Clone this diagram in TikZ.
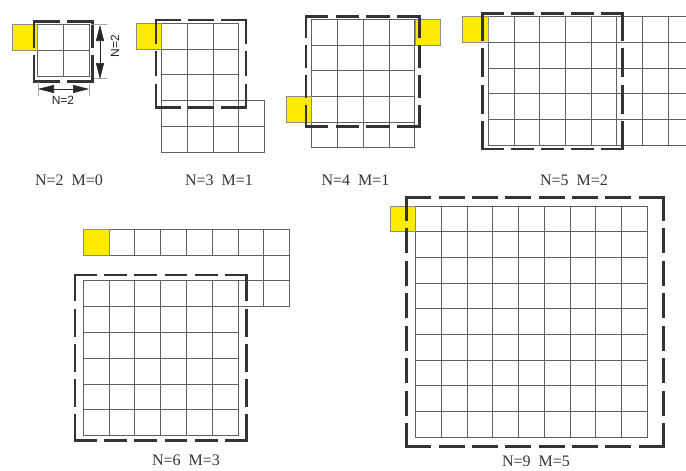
\documentclass[tikz,border=0pt]{standalone}
\usepackage{fontspec}
\setmainfont{Liberation Serif}
\newfontfamily\dimfont{Liberation Sans}
\usetikzlibrary{arrows.meta}
\tikzset{
  gridln/.style={draw=black!62, line width=0.9pt},
  yel/.style={fill=yellow!92!orange, draw=black!45, line width=0.6pt},
  dboxln/.style={draw=black!80, line width=2.6pt, line cap=rect},
  extln/.style={draw=black!35, line width=0.5pt},
  dimln/.style={draw=black!85, line width=0.6pt, {Triangle[length=16pt,width=8pt]}-{Triangle[length=16pt,width=8pt]}},
  captext/.style={font=\fontsize{16}{16}\selectfont, text=black!80, inner sep=0pt},
  dimtxt/.style={font=\dimfont\fontsize{12}{12}\selectfont, text=black!85, inner sep=0pt}
}
\newcommand{\dside}[4]{%
  \pgfmathsetmacro{\dsL}{veclen(#3-#1,#4-#2)}%
  \pgfmathsetmacro{\dsN}{max(1,round((\dsL+10)/33))}%
  \pgfmathsetmacro{\dsD}{(\dsL-(\dsN-1)*10)/\dsN}%
  \draw[dboxln, dash pattern=on \dsD pt off 10pt] (#1,#2) -- (#3,#4);}
\newcommand{\dbox}[4]{\dside{#1}{#2}{#3}{#2}\dside{#3}{#2}{#3}{#4}\dside{#3}{#4}{#1}{#4}\dside{#1}{#4}{#1}{#2}}
\begin{document}
\begin{tikzpicture}[x=1pt,y=-1pt]
\path[use as bounding box] (0,0) rectangle (686,471);
\clip (0,0) rectangle (686,471);
\fill[white] (0,0) rectangle (686,471);

% ---------- Panel N=2 ----------
\foreach \i in {0,1} \foreach \j in {0,1}
  \draw[gridln] ({37+26*\i},{24+26*\j}) rectangle ++(26,26);
\draw[yel] (12,24) rectangle (37,50);
\dbox{34}{21.7}{92.7}{81.7}
\draw[extln] (91,24) -- (107,24);
\draw[extln] (94,78) -- (107,78);
\draw[extln] (38,82) -- (38,96);
\draw[extln] (89,84) -- (89,96);
\coordinate (vA) at (100,25);
\coordinate (vB) at (100,79);
\draw[dimln] (vA) -- (vB);
\coordinate (hA) at (38,89);
\coordinate (hB) at (89,89);
\draw[dimln] (hA) -- (hB);
\node[dimtxt, rotate=90] (n2v) at (115,46) {N=2};
\node[dimtxt] (n2h) at (63,100) {N=2};

% ---------- Panel N=3 ----------
\foreach \i in {0,1,2} \foreach \j in {0,1,2}
  \draw[gridln] ({161.7+25.7*\i},{23.3+25.7*\j}) rectangle ++(25.7,25.7);
\foreach \i in {0,...,3} \foreach \j in {0,1}
  \draw[gridln] ({161.7+25.7*\i},{100.4+26*\j}) rectangle ++(25.7,26);
\draw[yel] (136,23.3) rectangle ++(25.7,25.7);
\dbox{156}{20}{246}{107.7}

% ---------- Panel N=4 ----------
\foreach \i in {0,...,3} \foreach \j in {0,...,4}
  \draw[gridln] ({311.7+25.8*\i},{19.3+25.7*\j}) rectangle ++(25.8,25.7);
\draw[yel] (414.9,19.3) rectangle ++(25.7,25.7);
\draw[yel] (286,96.4) rectangle ++(25.7,25.7);
\dbox{306}{16.7}{419.3}{126.7}

% ---------- Panel N=5 ----------
\foreach \i in {0,...,7} \foreach \j in {0,...,4}
  \draw[gridln] ({488.3+25.7*\i},{16.7+25.66*\j}) rectangle ++(25.7,25.66);
\draw[yel] (462.6,16.7) rectangle ++(25.7,25.66);
\dbox{482.3}{13.3}{622.3}{149}

% ---------- Panel N=6 ----------
\foreach \i/\j in {0/0,1/0,2/0,3/0,4/0,5/0,6/0,7/0,7/1,6/2,7/2}
  \draw[gridln] ({83.3+25.8*\i},{229.3+25.8*\j}) rectangle ++(25.8,25.8);
\foreach \i in {0,...,5} \foreach \j in {2,...,7}
  \draw[gridln] ({83.3+25.8*\i},{229.3+25.8*\j}) rectangle ++(25.8,25.8);
\draw[yel] (83.3,229.3) rectangle ++(25.8,25.8);
\dbox{75}{275}{246.7}{440.7}

% ---------- Panel N=9 ----------
\foreach \i in {0,...,8} \foreach \j in {0,...,8}
  \draw[gridln] ({415.7+25.73*\i},{206+25.7*\j}) rectangle ++(25.73,25.7);
\draw[yel] (390,206) rectangle ++(25.7,25.7);
\dbox{406.7}{197.3}{663.3}{446.7}

% ---------- Captions ----------
\node[captext] (c2) at (69,180) {N=2\ \ M=0};
\node[captext] (c3) at (219,180) {N=3\ \ M=1};
\node[captext] (c4) at (355.5,180) {N=4\ \ M=1};
\node[captext] (c5) at (574,180) {N=5\ \ M=2};
\node[captext] (c6) at (186,460) {N=6\ \ M=3};
\node[captext] (c9) at (536,461) {N=9\ \ M=5};
\end{tikzpicture}
\end{document}
